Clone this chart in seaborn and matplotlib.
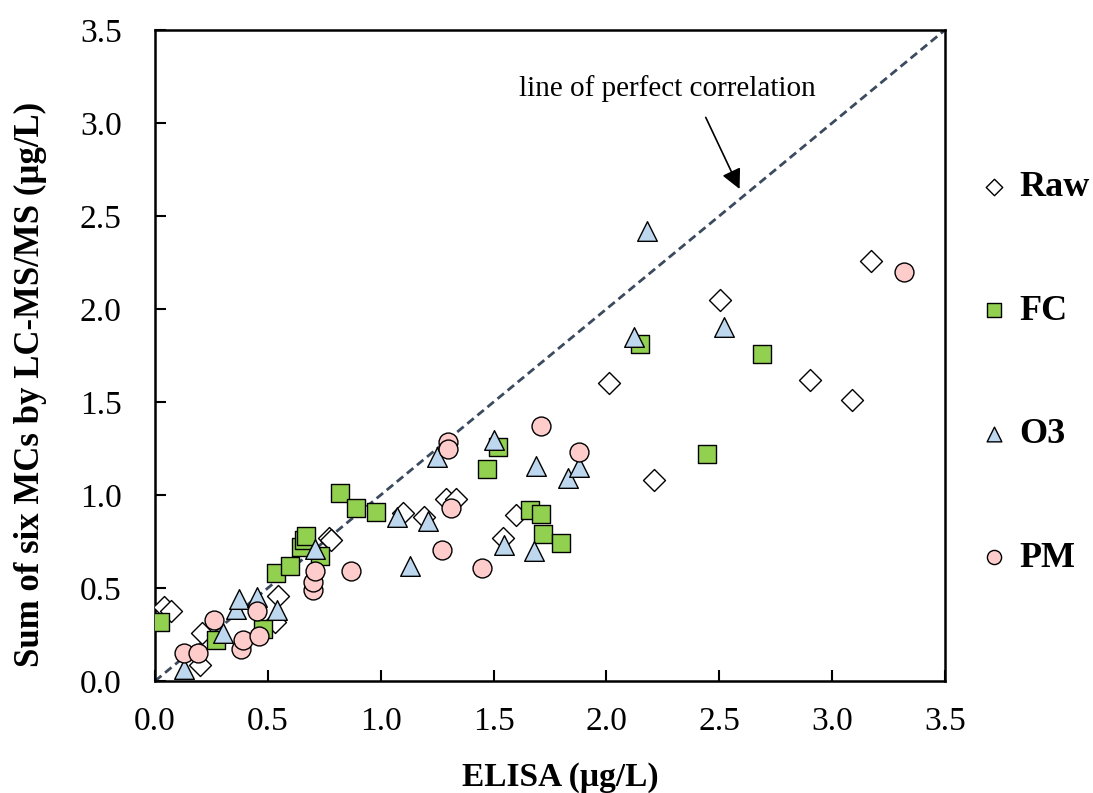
import seaborn as sns
import pandas as pd
import matplotlib
matplotlib.use('Agg')
import matplotlib.pyplot as plt

# ELISA (x) vs sum of six MCs by LC-MS/MS (y), ug/L
raw_x = [0.04, 0.07, 0.20, 0.21, 0.53, 0.545, 0.77, 0.78, 1.10, 1.19, 1.29, 1.335,
         1.54, 1.60, 2.01, 2.21, 2.505, 2.90, 3.09, 3.17]
raw_y = [0.40, 0.375, 0.085, 0.26, 0.32, 0.455, 0.77, 0.76, 0.905, 0.88, 0.98, 0.98,
         0.77, 0.89, 1.60, 1.08, 2.05, 1.62, 1.51, 2.26]

fc_x = [0.02, 0.27, 0.48, 0.535, 0.60, 0.645, 0.66, 0.67, 0.73, 0.82, 0.89, 0.98,
        1.47, 1.52, 1.66, 1.71, 1.72, 1.80, 2.15, 2.445, 2.69]
fc_y = [0.32, 0.22, 0.28, 0.58, 0.62, 0.72, 0.76, 0.78, 0.67, 1.01, 0.93, 0.91,
        1.14, 1.26, 0.92, 0.90, 0.79, 0.74, 1.81, 1.22, 1.76]

o3_x = [0.13, 0.30, 0.36, 0.37, 0.45, 0.54, 0.71, 1.07, 1.13, 1.21, 1.25, 1.50,
        1.545, 1.68, 1.69, 1.83, 1.88, 2.12, 2.18, 2.52]
o3_y = [0.065, 0.26, 0.385, 0.44, 0.45, 0.38, 0.71, 0.88, 0.62, 0.86, 1.205, 1.295,
        0.73, 0.70, 1.155, 1.09, 1.15, 1.85, 2.42, 1.905]

pm_x = [0.13, 0.19, 0.26, 0.38, 0.39, 0.45, 0.46, 0.70, 0.70, 0.71, 0.87, 1.27,
        1.30, 1.30, 1.31, 1.45, 1.71, 1.88, 3.32]
pm_y = [0.15, 0.15, 0.33, 0.17, 0.22, 0.375, 0.24, 0.49, 0.53, 0.59, 0.59, 0.705,
        1.285, 1.245, 0.93, 0.61, 1.37, 1.23, 2.20]

groups = ['Raw', 'FC', 'O3', 'PM']
xs = [raw_x, fc_x, o3_x, pm_x]
ys = [raw_y, fc_y, o3_y, pm_y]

df = pd.concat([pd.DataFrame({'elisa': x, 'lcms': y, 'group': g})
                for g, x, y in zip(groups, xs, ys)], ignore_index=True)

markers = {'Raw': 'D', 'FC': 's', 'O3': '^', 'PM': 'o'}
colors = {'Raw': 'white', 'FC': '#92d050', 'O3': '#bdd7ee', 'PM': '#ffcccc'}
sizes = {'Raw': 125, 'FC': 185, 'O3': 200, 'PM': 185}

sns.set_style('white')
plt.rcParams['font.family'] = ['Liberation Serif', 'DejaVu Serif']
plt.rcParams['text.color'] = 'black'
plt.rcParams['axes.labelcolor'] = 'black'
plt.rcParams['xtick.color'] = 'black'
plt.rcParams['ytick.color'] = 'black'

fig, ax = plt.subplots(figsize=(10.93, 7.93), dpi=100)
fig.subplots_adjust(left=0.1418, right=0.8646, bottom=0.1412, top=0.9622)

ax.axline((0, 0), slope=1, color='#3b4a5e', lw=2, ls=(0, (3, 1.7)), zorder=1)

for g in groups:
    sns.scatterplot(data=df[df['group'] == g], x='elisa', y='lcms',
                    marker=markers[g], color=colors[g], s=sizes[g],
                    edgecolor='black', linewidth=1, label=g, legend=False,
                    ax=ax, zorder=3)

ax.set_xlim(0, 3.5)
ax.set_ylim(0, 3.5)
ax.set_xticks([0, 0.5, 1, 1.5, 2, 2.5, 3, 3.5])
ax.set_yticks([0, 0.5, 1, 1.5, 2, 2.5, 3, 3.5])
ax.xaxis.set_major_formatter(matplotlib.ticker.FormatStrFormatter('%.1f'))
ax.yaxis.set_major_formatter(matplotlib.ticker.FormatStrFormatter('%.1f'))
ax.tick_params(axis='x', direction='in', length=8, width=1.5, labelsize=24,
               pad=18, bottom=True, top=False)
ax.tick_params(axis='y', direction='in', length=8, width=1.5, labelsize=24,
               pad=24, left=True, right=False)
for sp in ax.spines.values():
    sp.set_color('black')
    sp.set_linewidth(1.8)

ax.set_xlabel('ELISA (µg/L)', fontsize=24, fontweight='bold')
ax.set_ylabel('Sum of six MCs by LC-MS/MS (µg/L)', fontsize=25, fontweight='bold')
ax.xaxis.set_label_coords(0.513, -0.125)
ax.yaxis.set_label_coords(-0.137, 0.455)

ax.text(2.27, 3.185, 'line of perfect correlation', ha='center', va='center',
        fontsize=21)
ax.annotate('', xy=(2.59, 2.645), xytext=(2.44, 3.03),
            arrowprops=dict(arrowstyle='-|>', color='black', lw=1.2,
                            mutation_scale=30, shrinkA=0, shrinkB=0))

handles, labels = ax.get_legend_handles_labels()
fig.legend(handles, labels, loc='center left', bbox_to_anchor=(0.893, 0.53),
           frameon=False, markerscale=0.75, handlelength=1.0, handletextpad=0.2,
           labelspacing=2.5, borderpad=0, borderaxespad=0,
           prop={'size': 26, 'weight': 'bold'})

plt.savefig('out.png', dpi=100)
